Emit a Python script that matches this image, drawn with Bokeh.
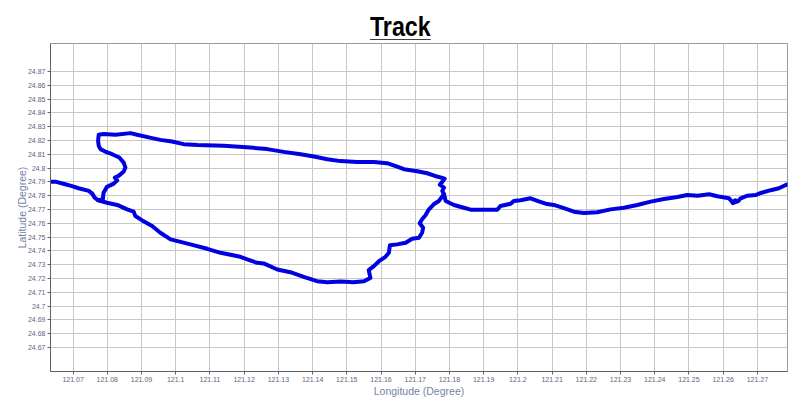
from bokeh.plotting import figure
from bokeh.models import Div, FixedTicker, CustomJSTickFormatter
from bokeh.layouts import column
from bokeh.embed import file_html
from bokeh.resources import INLINE

title_text = "Track"
x_axis_title = "Longitude (Degree)"
y_axis_title = "Latitude (Degree)"

lon_ticks = [121.07, 121.08, 121.09, 121.10, 121.11, 121.12, 121.13, 121.14, 121.15, 121.16,
             121.17, 121.18, 121.19, 121.20, 121.21, 121.22, 121.23, 121.24, 121.25, 121.26, 121.27]
lat_ticks = [24.67, 24.68, 24.69, 24.70, 24.71, 24.72, 24.73, 24.74, 24.75, 24.76, 24.77,
             24.78, 24.79, 24.80, 24.81, 24.82, 24.83, 24.84, 24.85, 24.86, 24.87]

# west end -> west junction -> north side of loop -> east junction -> east end
track_main_lon = [121.0634, 121.0648, 121.0677, 121.0697, 121.0716, 121.0746, 121.0756, 121.0763, 121.0773,
                  121.0787, 121.0789, 121.0799, 121.0819, 121.0829, 121.0822, 121.0833, 121.0848, 121.0853,
                  121.0848, 121.0835, 121.0814, 121.0794, 121.0780, 121.0775, 121.0773, 121.0775, 121.0789,
                  121.0824, 121.0868, 121.0887, 121.0931, 121.0955, 121.0989, 121.1023, 121.1063, 121.1140,
                  121.1218, 121.1267, 121.1316, 121.1365, 121.1404, 121.1443, 121.1482, 121.1530, 121.1579,
                  121.1618, 121.1647, 121.1667, 121.1706, 121.1735, 121.1764, 121.1786, 121.1779, 121.1772,
                  121.1784, 121.1779, 121.1784,
                  121.1789, 121.1813, 121.1842, 121.1862, 121.1901, 121.1940, 121.1949, 121.1979, 121.1988,
                  121.2008, 121.2037, 121.2057, 121.2081, 121.2105, 121.2130, 121.2164, 121.2193, 121.2232,
                  121.2271, 121.2310, 121.2349, 121.2388, 121.2427, 121.2466, 121.2495, 121.2525, 121.2559,
                  121.2583, 121.2617, 121.2627, 121.2636, 121.2628, 121.2644, 121.2651, 121.2671, 121.2695,
                  121.2710, 121.2739, 121.2763, 121.2783, 121.2795]
track_main_lat = [24.7902, 24.7902, 24.7883, 24.7869, 24.7854, 24.7835, 24.7815, 24.7786, 24.7767,
                  24.7774, 24.7822, 24.7864, 24.7888, 24.7912, 24.7931, 24.7944, 24.7975, 24.8004,
                  24.8040, 24.8077, 24.8101, 24.8120, 24.8138, 24.8162, 24.8198, 24.8242, 24.8247,
                  24.8242, 24.8254, 24.8242, 24.8218, 24.8205, 24.8193, 24.8174, 24.8167, 24.8162,
                  24.8149, 24.8138, 24.8118, 24.8101, 24.8084, 24.8065, 24.8051, 24.8045, 24.8045,
                  24.8036, 24.8011, 24.7992, 24.7978, 24.7963, 24.7939, 24.7924, 24.7900, 24.7880,
                  24.7859, 24.7835, 24.7811,
                  24.7762, 24.7733, 24.7713, 24.7699, 24.7699, 24.7699, 24.7725, 24.7742, 24.7762,
                  24.7767, 24.7781, 24.7762, 24.7742, 24.7733, 24.7713, 24.7684, 24.7675, 24.7680,
                  24.7701, 24.7713, 24.7733, 24.7757, 24.7776, 24.7791, 24.7805, 24.7800, 24.7811,
                  24.7796, 24.7781, 24.7753, 24.7767, 24.7746, 24.7760, 24.7781, 24.7800, 24.7805,
                  24.7820, 24.7840, 24.7854, 24.7878, 24.7886]

# west junction -> south side of loop -> east junction
track_loop_lon = [121.0773, 121.0799, 121.0829, 121.0858, 121.0877, 121.0882, 121.0902, 121.0931, 121.0955,
                  121.0985, 121.1043, 121.1092, 121.1131, 121.1189, 121.1209, 121.1238, 121.1257, 121.1297,
                  121.1335, 121.1374, 121.1413, 121.1443, 121.1482, 121.1520, 121.1550, 121.1569, 121.1564,
                  121.1579, 121.1594, 121.1613, 121.1623, 121.1626, 121.1647, 121.1672, 121.1691, 121.1711,
                  121.1720, 121.1723, 121.1713, 121.1720, 121.1730, 121.1740, 121.1754, 121.1769, 121.1784]
track_loop_lat = [24.7767, 24.7749, 24.7733, 24.7701, 24.7684, 24.7653, 24.7621, 24.7580, 24.7531,
                  24.7483, 24.7447, 24.7415, 24.7386, 24.7357, 24.7338, 24.7313, 24.7309, 24.7265,
                  24.7245, 24.7211, 24.7180, 24.7173, 24.7178, 24.7173, 24.7180, 24.7204, 24.7260,
                  24.7289, 24.7325, 24.7357, 24.7386, 24.7440, 24.7447, 24.7459, 24.7488, 24.7495,
                  24.7531, 24.7568, 24.7600, 24.7629, 24.7658, 24.7701, 24.7738, 24.7762, 24.7811]

title = Div(
    text=('<div style="width:800px;text-align:center;padding-top:14px;'
          "font-family:'Liberation Sans',Arial,sans-serif;"
          'font-weight:bold;font-size:27px;line-height:26px;color:#000;">'
          '<span style="display:inline-block;transform:scaleX(0.86);text-decoration:underline;'
          'text-decoration-thickness:3px;text-underline-offset:3px;">' + title_text + '</span></div>'),
    width=800, height=39, margin=(0, 0, 0, 0))

p = figure(x_range=(121.0634, 121.2788), y_range=(24.6525, 24.8904),
           frame_width=737, frame_height=328,
           min_border_left=50, min_border_top=4, min_border_right=5, min_border_bottom=5,
           output_backend="svg", toolbar_location=None, margin=(0, 0, 0, 0),
           background_fill_color="white", border_fill_color="white")

p.outline_line_color = "#9a9a9a"
p.outline_line_width = 1

fmt = CustomJSTickFormatter(code="return tick.toFixed(2).replace(/0$/, '');")
p.xaxis.ticker = FixedTicker(ticks=lon_ticks)
p.yaxis.ticker = FixedTicker(ticks=lat_ticks)
p.xaxis.formatter = fmt
p.yaxis.formatter = fmt

for ax in (p.xaxis, p.yaxis):
    ax.axis_line_color = "#606060"
    ax.major_tick_line_color = "#606060"
    ax.major_tick_in = 0
    ax.major_tick_out = 3
    ax.minor_tick_line_color = None
    ax.major_label_text_font = "Liberation Sans"
    ax.major_label_text_font_size = "7px"
    ax.major_label_text_color = "#5d6680"
    ax.axis_label_text_font = "Liberation Sans"
    ax.axis_label_text_font_size = "10.5px"
    ax.axis_label_text_font_style = "normal"
    ax.axis_label_text_color = "#7683a3"

p.xaxis.axis_label = x_axis_title
p.yaxis.axis_label = y_axis_title
p.xaxis.major_label_standoff = 2
p.yaxis.major_label_standoff = 2
p.xaxis.axis_label_standoff = 0
p.yaxis.axis_label_standoff = -3

p.xgrid.ticker = FixedTicker(ticks=lon_ticks)
p.ygrid.ticker = FixedTicker(ticks=lat_ticks)
p.grid.grid_line_color = "#c8c8c8"
p.grid.grid_line_width = 1

p.line(track_loop_lon, track_loop_lat, line_color="#0000e0", line_width=4, line_join="round", line_cap="round")
p.line(track_main_lon, track_main_lat, line_color="#0000e0", line_width=4, line_join="round", line_cap="round")

layout = column(title, p, spacing=0, margin=(0, 0, 0, 0))
open("out.html", "w").write(file_html(layout, INLINE))
